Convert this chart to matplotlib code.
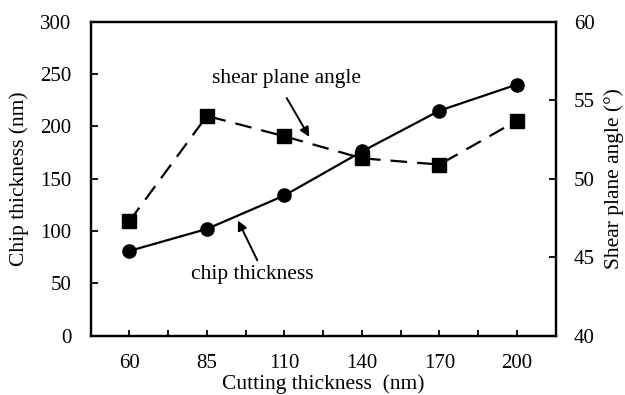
import matplotlib
matplotlib.use("Agg")
import matplotlib.pyplot as plt

categories = ["60", "85", "110", "140", "170", "200"]
chip_thickness = [81, 102, 134, 176, 215, 240]
shear_angle = [47.3, 54.0, 52.7, 51.3, 50.9, 53.7]
left_ticks = [0, 50, 100, 150, 200, 250, 300]
right_ticks = [40, 45, 50, 55, 60]

plt.rcParams['font.family'] = ['Liberation Serif', 'DejaVu Serif']

fig = plt.figure(figsize=(6.25, 3.95), dpi=100)
ax = fig.add_axes([90.7/625, 1 - 335.7/395, 465/625, 314/395])
ax2 = ax.twinx()

x = list(range(len(categories)))
ax.plot(x, chip_thickness, color='black', lw=1.6, marker='o', ms=9.5, zorder=3)
ax2.plot(x, shear_angle, color='black', lw=1.6, ls=(0, (7.5, 4.5)), marker='s', ms=9.5, zorder=3)

ax.set_xlim(-0.5, len(categories) - 0.5)
ax.set_ylim(0, 300)
ax2.set_ylim(40, 60)
ax.set_xticks(x)
ax.set_xticklabels(categories)
ax.set_xticks([i + 0.5 for i in range(len(categories) - 1)], minor=True)
ax.set_yticks(left_ticks)
ax2.set_yticks(right_ticks)

fs = 15
lfs = 15.5
ax.tick_params(axis='x', which='both', direction='in', length=4, width=1.3, labelsize=fs, pad=13)
ax.tick_params(axis='y', direction='in', length=5, width=1.3, labelsize=fs, pad=14)
ax2.tick_params(axis='y', direction='in', length=5, width=1.3, labelsize=fs, pad=13)
for a in (ax, ax2):
    for s in a.spines.values():
        s.set_linewidth(1.6)

ax.set_xlabel("Cutting thickness  (nm)", fontsize=lfs, labelpad=1)
ax.set_ylabel("Chip thickness (nm)", fontsize=lfs, labelpad=8)
ax2.set_ylabel("Shear plane angle (°)", fontsize=lfs, labelpad=7)

arrow = dict(arrowstyle='-|>', color='black', lw=1.4, shrinkA=0, shrinkB=0, mutation_scale=14)
ax.text(2.02, 246, "shear plane angle", ha='center', va='center', fontsize=lfs)
ax.annotate("", xy=(2.32, 190), xytext=(2.03, 227), arrowprops=arrow)
ax.text(1.58, 58, "chip thickness", ha='center', va='center', fontsize=lfs)
ax.annotate("", xy=(1.40, 110), xytext=(1.65, 72), arrowprops=arrow)

fig.savefig("out.png", dpi=100)
